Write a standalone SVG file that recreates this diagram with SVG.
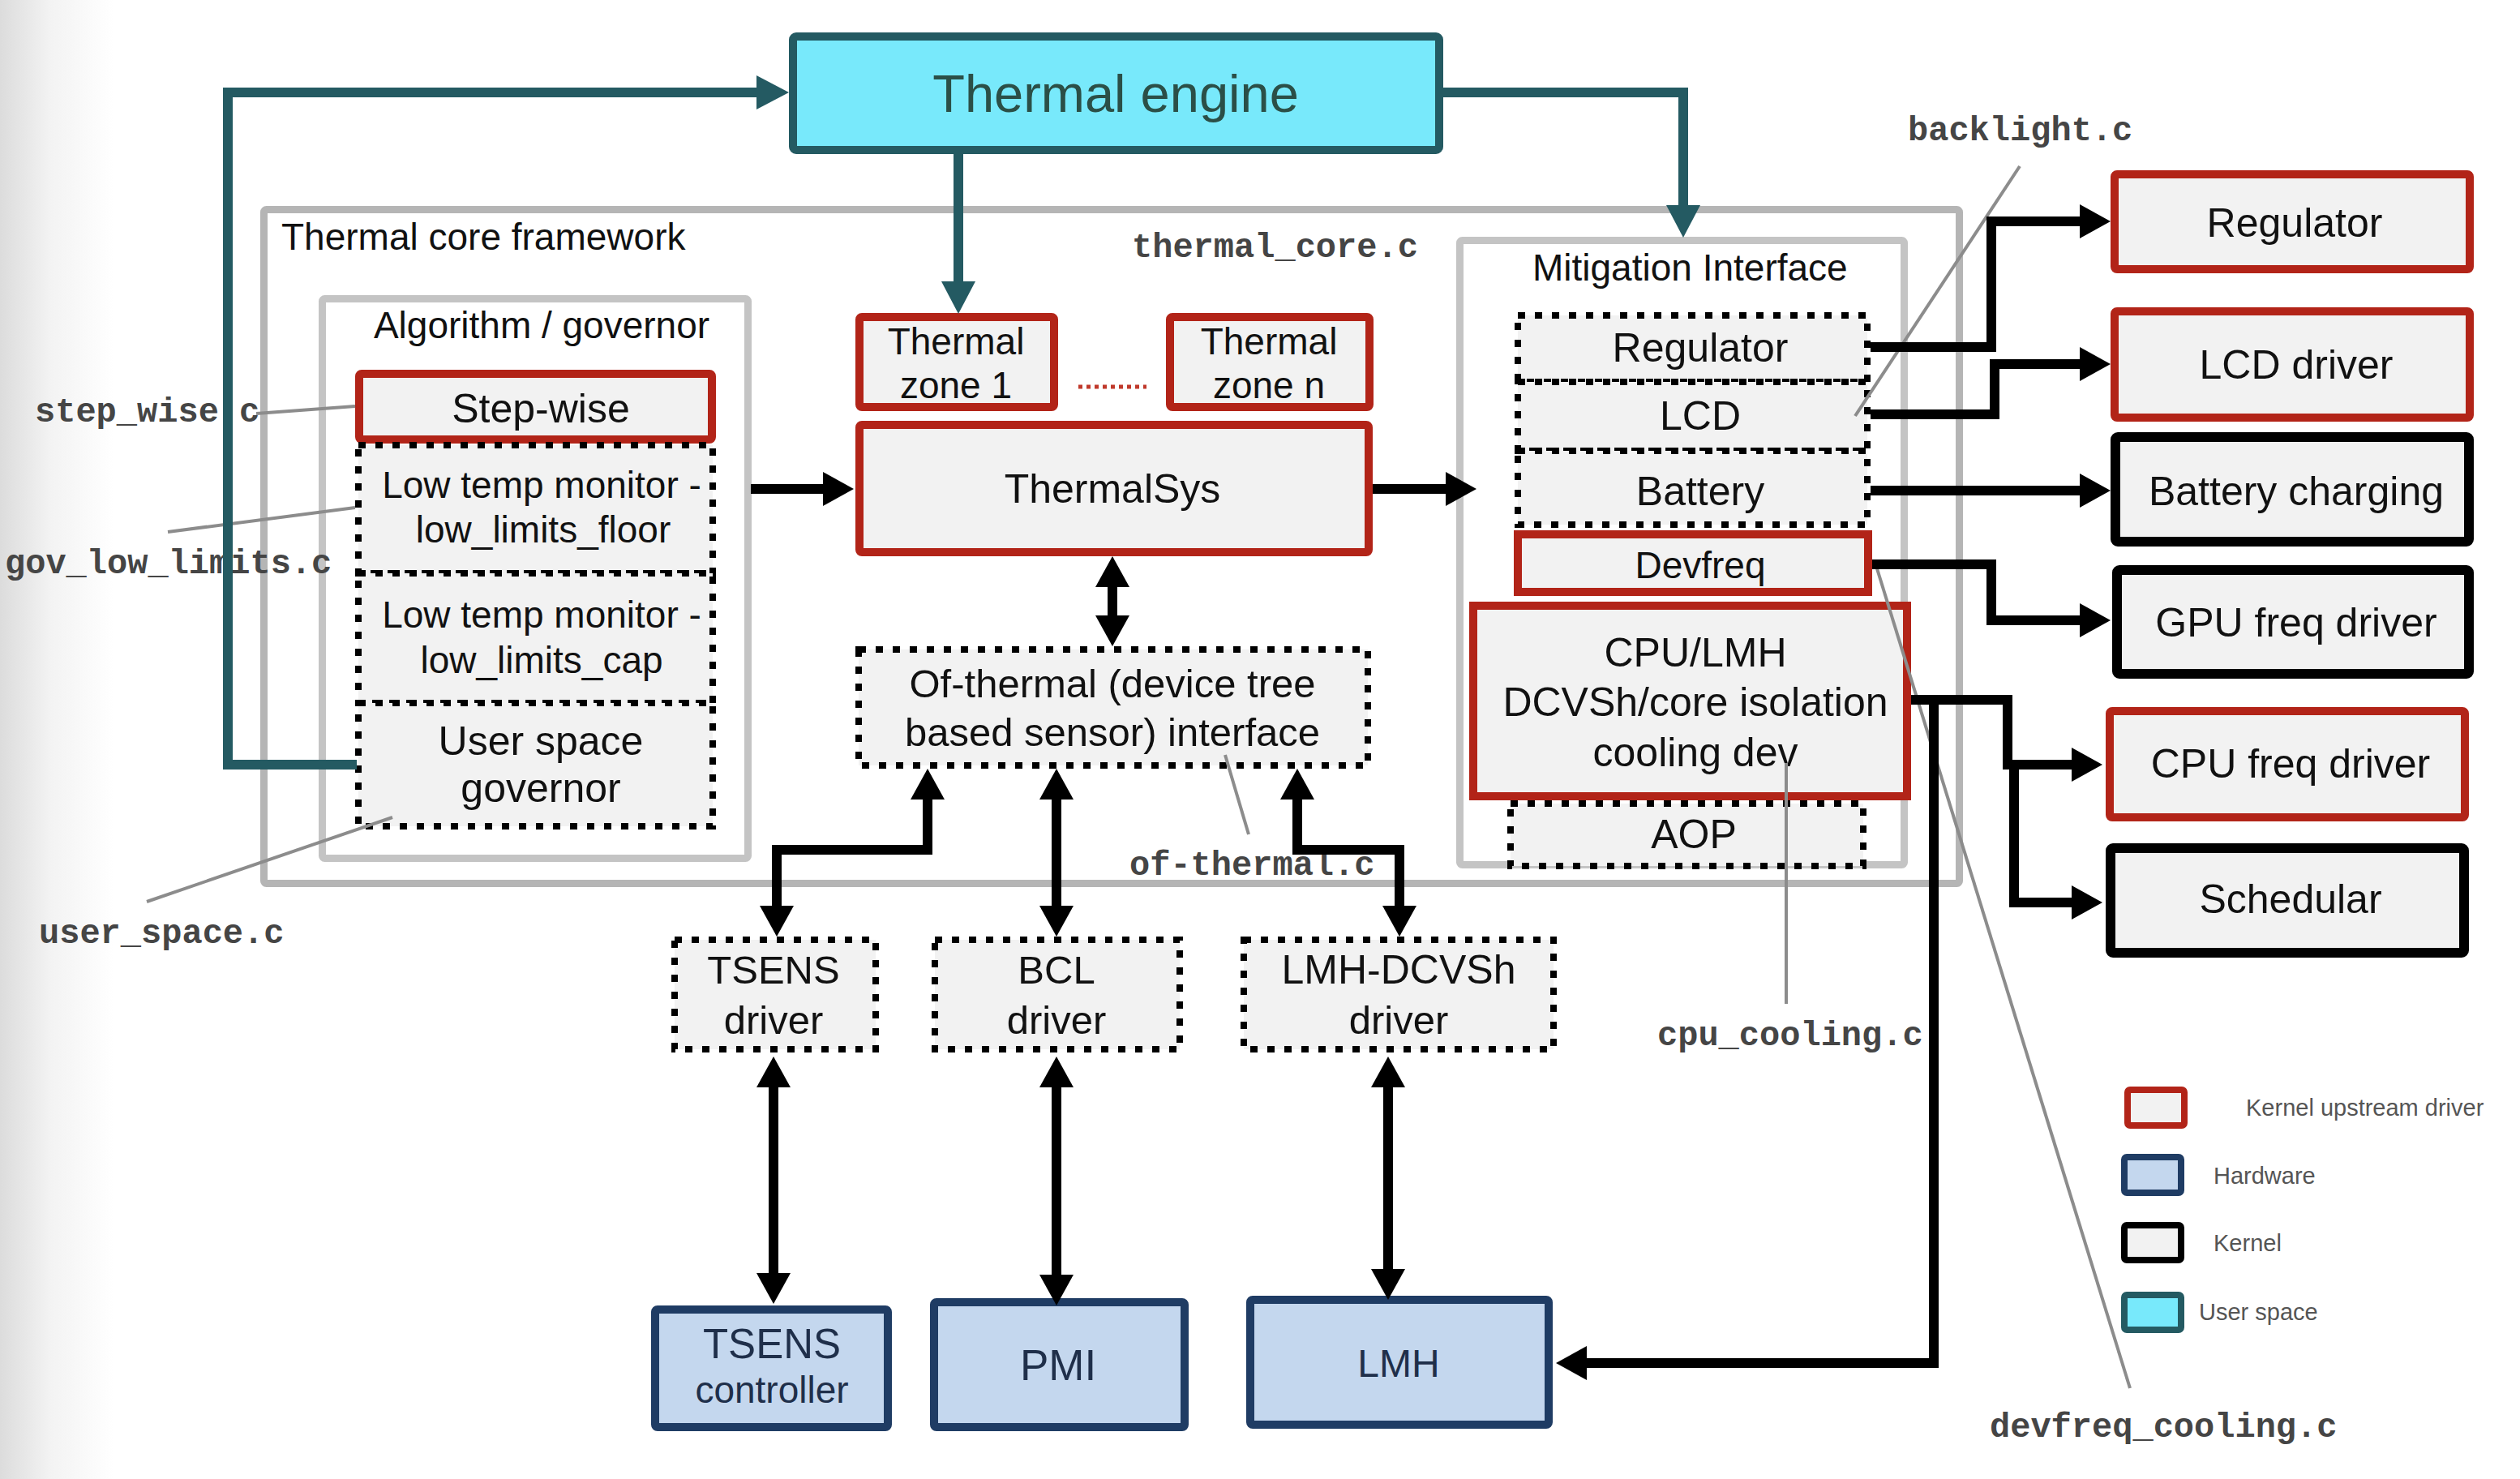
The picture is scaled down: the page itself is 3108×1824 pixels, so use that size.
<svg xmlns="http://www.w3.org/2000/svg" width="3108" height="1824" viewBox="0 0 3108 1824">
<defs>
<linearGradient id="lg" x1="0" y1="0" x2="1" y2="0">
<stop offset="0" stop-color="#dcdcdc"/>
<stop offset="0.45" stop-color="#f3f3f3"/>
<stop offset="1" stop-color="#ffffff"/>
</linearGradient>
<marker id="ah" markerUnits="userSpaceOnUse" markerWidth="38" markerHeight="42" refX="0" refY="21" orient="auto-start-reverse" viewBox="0 0 38 42"><path d="M0,0 L38,21 L0,42 z" fill="#000"/></marker>
<marker id="at" markerUnits="userSpaceOnUse" markerWidth="40" markerHeight="42" refX="0" refY="21" orient="auto" viewBox="0 0 40 42"><path d="M0,0 L40,21 L0,42 z" fill="#245a62"/></marker>
<style>
.kr{fill:#f2f2f2;stroke:#b22418;stroke-width:10;}
.kb{fill:#f2f2f2;stroke:#000;stroke-width:12;}
.dt{fill:#f2f2f2;stroke:#000;stroke-width:8;stroke-dasharray:9 12;}
.hw{fill:#c4d7ee;stroke:#1f3c64;stroke-width:10;}
.fr{fill:#fff;stroke:#b5b5b5;stroke-width:9;}
.fr2{fill:#fff;stroke:#c4c4c4;stroke-width:9;}
.t{font-family:"Liberation Sans",Arial,sans-serif;fill:#111;text-anchor:middle;}
.l50{font-size:50px;}
.l46{font-size:46px;}
.ts{font-family:"Liberation Sans",Arial,sans-serif;font-size:46px;fill:#111;}
.mono{font-family:"Liberation Mono","Courier New",monospace;font-size:42px;font-weight:bold;fill:#454545;}
.leg{font-family:"Liberation Sans",Arial,sans-serif;font-size:29px;fill:#555;}
.bl{fill:none;stroke:#000;stroke-width:12;stroke-linejoin:miter;}
.tl{fill:none;stroke:#245a62;stroke-width:12;stroke-linejoin:miter;}
.an{fill:none;stroke:#8c8c8c;stroke-width:4;}
</style>
</defs>
<rect x="0" y="0" width="3108" height="1824" fill="#fff"/>
<rect x="0" y="0" width="140" height="1824" fill="url(#lg)"/>

<g id="frames">
<g id="thermal-core-framework">
<rect class="fr" x="325.5" y="258.5" width="2091" height="831" rx="3"/>
<text class="ts" x="347" y="308">Thermal core framework</text>
</g>
<g id="algorithm-governor">
<rect class="fr2" x="397.5" y="368.5" width="525" height="690" rx="3"/>
<text class="t l46" x="668" y="417">Algorithm / governor</text>
</g>
<g id="mitigation-interface">
<rect class="fr2" x="1800.5" y="296.5" width="548" height="770" rx="3"/>
<text class="ts" x="1890" y="346">Mitigation Interface</text>
</g>
</g>

<g id="nodes">
<g id="thermal-engine">
<rect x="978" y="45" width="797" height="140" rx="4" fill="#78e9fb" stroke="#245a62" stroke-width="10"/>
<text class="t" x="1376" y="138" font-size="65" style="fill:#2b4f47">Thermal engine</text>
</g>
<g id="step-wise">
<rect class="kr" x="443" y="461" width="435" height="81" rx="3"/>
<text class="t l50" x="667" y="521">Step-wise</text>
</g>
<g id="low-limits-floor">
<rect class="dt" x="442" y="549" width="437" height="158"/>
<text class="t l46" x="668" y="614">Low temp monitor -</text>
<text class="t l46" x="670" y="669">low_limits_floor</text>
</g>
<g id="low-limits-cap">
<rect class="dt" x="442" y="707" width="437" height="160"/>
<text class="t l46" x="668" y="774">Low temp monitor -</text>
<text class="t l46" x="668" y="830">low_limits_cap</text>
</g>
<g id="user-space-governor">
<rect class="dt" x="442" y="867" width="437" height="152"/>
<text class="t l50" x="667" y="931">User space</text>
<text class="t l50" x="667" y="989">governor</text>
</g>
<g id="thermal-zone-1">
<rect class="kr" x="1060" y="391" width="240" height="111" rx="3"/>
<text class="t l46" x="1179" y="437">Thermal</text>
<text class="t l46" x="1179" y="491">zone 1</text>
</g>
<g id="thermal-zone-n">
<rect class="kr" x="1443" y="391" width="246" height="111" rx="3"/>
<text class="t l46" x="1565" y="437">Thermal</text>
<text class="t l46" x="1565" y="491">zone n</text>
</g>
<g id="thermalsys">
<rect class="kr" x="1060" y="524" width="628" height="157" rx="3"/>
<text class="t l50" x="1372" y="620">ThermalSys</text>
</g>
<g id="of-thermal">
<rect class="dt" x="1059" y="801" width="628" height="143"/>
<text class="t" font-size="49" x="1372" y="860">Of-thermal (device tree</text>
<text class="t" font-size="49" x="1372" y="920">based sensor) interface</text>
</g>
<g id="tsens-driver">
<rect class="dt" x="832" y="1159" width="248" height="135"/>
<text class="t" font-size="49" x="954" y="1213">TSENS</text>
<text class="t" font-size="49" x="954" y="1275">driver</text>
</g>
<g id="bcl-driver">
<rect class="dt" x="1153" y="1159" width="302" height="135"/>
<text class="t" font-size="49" x="1303" y="1213">BCL</text>
<text class="t" font-size="49" x="1303" y="1275">driver</text>
</g>
<g id="lmh-dcvsh-driver">
<rect class="dt" x="1534" y="1159" width="382" height="135"/>
<text class="t l50" x="1725" y="1213">LMH-DCVSh</text>
<text class="t" font-size="49" x="1725" y="1275">driver</text>
</g>
<g id="tsens-controller">
<rect class="hw" x="808" y="1615" width="287" height="145" rx="3"/>
<text class="t" font-size="51" x="952" y="1675" style="fill:#1f2f4a">TSENS</text>
<text class="t l46" x="952" y="1730" style="fill:#1f2f4a">controller</text>
</g>
<g id="pmi">
<rect class="hw" x="1152" y="1606" width="309" height="154" rx="3"/>
<text class="t" font-size="53" x="1305" y="1702" style="fill:#1f2f4a">PMI</text>
</g>
<g id="lmh">
<rect class="hw" x="1542" y="1603" width="368" height="154" rx="3"/>
<text class="t" font-size="48" x="1725" y="1698" style="fill:#1f2f4a">LMH</text>
</g>
<g id="mit-regulator">
<rect class="dt" x="1872" y="389" width="431" height="82"/>
<text class="t l50" x="2097" y="446">Regulator</text>
</g>
<g id="mit-lcd">
<rect class="dt" x="1872" y="471" width="431" height="85"/>
<text class="t l50" x="2097" y="530">LCD</text>
</g>
<g id="mit-battery">
<rect class="dt" x="1872" y="556" width="431" height="91"/>
<text class="t l50" x="2097" y="623">Battery</text>
</g>
<g id="mit-devfreq">
<rect class="kr" x="1872" y="659" width="432" height="71"/>
<text class="t l46" x="2097" y="713">Devfreq</text>
</g>
<g id="mit-aop">
<rect class="dt" x="1863" y="991" width="435" height="77"/>
<text class="t l50" x="2089" y="1046">AOP</text>
</g>
<g id="mit-cpu-lmh">
<rect class="kr" x="1817" y="747" width="535" height="235"/>
<text class="t l50" x="2091" y="822">CPU/LMH</text>
<text class="t l50" x="2091" y="883">DCVSh/core isolation</text>
<text class="t l50" x="2091" y="945">cooling dev</text>
</g>
<g id="regulator">
<rect class="kr" x="2608" y="215" width="438" height="117" rx="3"/>
<text class="t l50" x="2830" y="292">Regulator</text>
</g>
<g id="lcd-driver">
<rect class="kr" x="2608" y="384" width="438" height="131" rx="3"/>
<text class="t l50" x="2832" y="467">LCD driver</text>
</g>
<g id="battery-charging">
<rect class="kb" x="2609" y="539" width="436" height="129" rx="3"/>
<text class="t l50" x="2832" y="623">Battery charging</text>
</g>
<g id="gpu-freq-driver">
<rect class="kb" x="2611" y="703" width="434" height="128" rx="3"/>
<text class="t l50" x="2832" y="785">GPU freq driver</text>
</g>
<g id="cpu-freq-driver">
<rect class="kr" x="2602" y="877" width="438" height="131" rx="3"/>
<text class="t l50" x="2825" y="959">CPU freq driver</text>
</g>
<g id="schedular">
<rect class="kb" x="2603" y="1046" width="436" height="129" rx="3"/>
<text class="t l50" x="2825" y="1126">Schedular</text>
</g>
</g>

<g id="annotations">
<text class="mono" x="43" y="520">step_wise.c</text>
<text class="mono" x="6" y="707">gov_low_limits.c</text>
<text class="mono" x="48" y="1163">user_space.c</text>
<text class="mono" x="1396" y="317">thermal_core.c</text>
<text class="mono" x="1393" y="1079">of-thermal.c</text>
<text class="mono" x="2353" y="173">backlight.c</text>
<text class="mono" x="2044" y="1289">cpu_cooling.c</text>
<text class="mono" x="2454" y="1772">devfreq_cooling.c</text>
<path class="an" d="M316,510 L438,501"/>
<path class="an" d="M207,656 L438,626"/>
<path class="an" d="M181,1112 L484,1008"/>
<path class="an" d="M1511,931 L1540,1029"/>
<path class="an" d="M2491,205 L2288,513"/>
<path class="an" d="M2203,941 L2203,1238"/>
<path class="an" d="M2314,698 L2627,1712"/>
</g>

<g id="connectors">
<path class="tl" d="M440,943 H281 V114 H933" marker-end="url(#at)"/>
<path class="tl" d="M1182,190 V347" marker-end="url(#at)"/>
<path class="tl" d="M1780,114 H2076 V253" marker-end="url(#at)"/>
<path d="M1330,477 H1414" fill="none" stroke="#c0392b" stroke-width="5" stroke-dasharray="5 5"/>
<path class="bl" d="M926,603 H1015" marker-end="url(#ah)"/>
<path class="bl" d="M1693,603 H1783" marker-end="url(#ah)"/>
<path class="bl" d="M1372,724 V759" marker-start="url(#ah)" marker-end="url(#ah)"/>
<path class="bl" d="M1144,986 V1048 H958 V1117" marker-start="url(#ah)" marker-end="url(#ah)"/>
<path class="bl" d="M1303,986 V1117" marker-start="url(#ah)" marker-end="url(#ah)"/>
<path class="bl" d="M1600,986 V1048 H1726 V1117" marker-start="url(#ah)" marker-end="url(#ah)"/>
<path class="bl" d="M954,1341 V1570" marker-start="url(#ah)" marker-end="url(#ah)"/>
<path class="bl" d="M1303,1341 V1572" marker-start="url(#ah)" marker-end="url(#ah)"/>
<path class="bl" d="M1712,1341 V1565" marker-start="url(#ah)" marker-end="url(#ah)"/>
<path class="bl" d="M2307,428 H2456 V273 H2565" marker-end="url(#ah)"/>
<path class="bl" d="M2307,511 H2460 V449 H2565" marker-end="url(#ah)"/>
<path class="bl" d="M2307,605 H2565" marker-end="url(#ah)"/>
<path class="bl" d="M2309,696 H2456 V765 H2565" marker-end="url(#ah)"/>
<path class="bl" d="M2357,863 H2476 V943 H2555" marker-end="url(#ah)"/>
<path class="bl" d="M2484,943 V1113 H2555" marker-end="url(#ah)"/>
<path class="bl" d="M2385,863 V1681 H1957" marker-end="url(#ah)"/>
</g>

<g id="legend">
<rect x="2624" y="1344" width="70" height="44" rx="3" fill="#f2f2f2" stroke="#b22418" stroke-width="8"/>
<rect x="2620" y="1427" width="70" height="44" rx="3" fill="#c4d7ee" stroke="#1f3c64" stroke-width="8"/>
<rect x="2620" y="1511" width="70" height="43" rx="3" fill="#f2f2f2" stroke="#000" stroke-width="8"/>
<rect x="2620" y="1597" width="70" height="43" rx="3" fill="#78e9fb" stroke="#245a62" stroke-width="8"/>
<text class="leg" x="2770" y="1376">Kernel upstream driver</text>
<text class="leg" x="2730" y="1460">Hardware</text>
<text class="leg" x="2730" y="1543">Kernel</text>
<text class="leg" x="2712" y="1628">User space</text>
</g>
</svg>
